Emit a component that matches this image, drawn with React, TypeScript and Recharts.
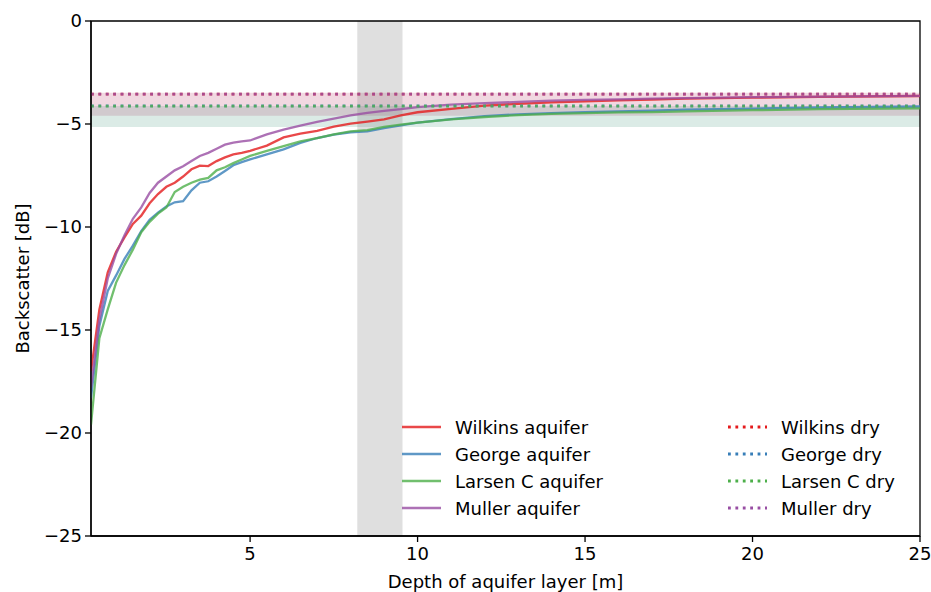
import { LineChart, Line, XAxis, YAxis, ReferenceArea, ReferenceLine } from 'recharts';

// depth of the aquifer layer [m]
const depths = [
  0.25, 0.5, 0.75, 1, 1.25, 1.5, 1.75, 2, 2.25, 2.5, 2.75, 3, 3.25, 3.5, 3.75, 4, 4.25, 4.5, 4.75, 5,
  5.5, 6, 6.5, 7, 7.5, 8, 8.5, 9, 9.5, 10, 11, 12, 13, 14, 15, 16, 17, 18, 20, 22, 25,
];

// backscatter [dB] for each site with an aquifer
const wilkins = [
  -17.0, -14.0, -12.2, -11.2, -10.5, -9.85, -9.45, -8.85, -8.4, -8.05, -7.85, -7.55, -7.2, -7.02, -7.04, -6.8, -6.62, -6.48, -6.4, -6.3,
  -6.05, -5.65, -5.47, -5.33, -5.13, -4.98, -4.88, -4.78, -4.58, -4.43, -4.27, -4.11, -4.02, -3.95, -3.9, -3.85, -3.81, -3.77, -3.72, -3.68, -3.64,
];
const george = [
  -18.3, -14.8, -13.1, -12.35, -11.55, -10.9, -10.2, -9.65, -9.3, -9.0, -8.8, -8.75, -8.22, -7.85, -7.78, -7.55, -7.28, -7.0, -6.85, -6.72,
  -6.47, -6.23, -5.92, -5.68, -5.52, -5.4, -5.36, -5.2, -5.07, -4.93, -4.76, -4.62, -4.53, -4.47, -4.42, -4.39, -4.35, -4.3, -4.25, -4.2, -4.15,
];
const larsen = [
  -19.6, -15.4, -14.0, -12.7, -11.85, -11.1, -10.25, -9.75, -9.35, -9.05, -8.3, -8.05, -7.85, -7.7, -7.62, -7.25, -7.1, -6.9, -6.72, -6.55,
  -6.3, -6.07, -5.84, -5.68, -5.5, -5.36, -5.3, -5.14, -5.03, -4.93, -4.78, -4.66, -4.57, -4.51, -4.47, -4.44, -4.42, -4.39, -4.33, -4.28, -4.24,
];
const muller = [
  -17.8, -14.5, -12.5, -11.3, -10.4, -9.6, -9.05, -8.35, -7.85, -7.55, -7.25, -7.05, -6.8, -6.55, -6.4, -6.2, -6.0, -5.9, -5.84, -5.8,
  -5.5, -5.27, -5.08, -4.9, -4.74, -4.58, -4.46, -4.36, -4.28, -4.18, -4.06, -3.99, -3.93, -3.87, -3.83, -3.8, -3.77, -3.74, -3.7, -3.67, -3.63,
];

// dry backscatter and its range, same order as the sites
const sites = ['Wilkins', 'George', 'Larsen C', 'Muller'];
const colors = ['#e41a1c', '#377eb8', '#4daf4a', '#984ea3'];
const dryLevel = [-3.55, -4.12, -4.13, -3.55];
const bandTop = [-3.48, -4.13, -4.13, -3.48];
const bandBottom = [-4.6, -5.15, -5.15, -4.6];

// depth range shaded in grey
const shadeFrom = 8.2;
const shadeTo = 9.55;

const xTicks = [5, 10, 15, 20, 25];
const yTicks = [0, -5, -10, -15, -20, -25];

const rows = depths.map((d, i) => ({
  depth: d,
  wilkins: wilkins[i],
  george: george[i],
  larsen: larsen[i],
  muller: muller[i],
}));
const keys = ['wilkins', 'george', 'larsen', 'muller'];

const font = '"DejaVu Sans", sans-serif';
const minus = (v: number) => String(v).replace('-', '\u2212');

const YLabel = ({ viewBox }: any) => {
  const cy = viewBox.y + viewBox.height / 2;
  return (
    <text x={22} y={cy} transform={`rotate(-90, 22, ${cy})`} textAnchor="middle" dominantBaseline="central"
      fontSize={18} fontFamily={font} fill="#000">
      Backscatter [dB]
    </text>
  );
};

function LegendColumn({ left, dotted, suffix }: { left: number; dotted: boolean; suffix: string }) {
  return (
    <div style={{ position: 'absolute', left, top: 413.5 }}>
      {sites.map((s, i) => (
        <div key={s} style={{ display: 'flex', alignItems: 'center', height: 27 }}>
          <svg width={39} height={10} style={{ display: 'block' }}>
            <line x1={0} y1={5} x2={39} y2={5} stroke={colors[i]} strokeWidth={dotted ? 2.8 : 2.3}
              strokeOpacity={dotted ? 1 : 0.8} strokeDasharray={dotted ? '2.8 4.6' : undefined} />
          </svg>
          <span style={{ marginLeft: 14, fontSize: 18, fontFamily: font, whiteSpace: 'nowrap' }}>
            {s} {suffix}
          </span>
        </div>
      ))}
    </div>
  );
}

export default function App() {
  return (
    <div style={{ position: 'relative', width: 931, height: 592, background: '#fff' }}>
      <style>{`body{margin:0}`}</style>
      <LineChart width={931} height={592} data={rows} margin={{ top: 21, right: 11, bottom: 0, left: 0 }}>
        <XAxis dataKey="depth" type="number" domain={[0.25, 25]} ticks={xTicks} allowDataOverflow
          height={56} tickSize={6} tickMargin={5} stroke="#000" strokeWidth={1.3}
          tick={{ fill: '#000', fontSize: 18, fontFamily: font }}
          label={{ value: 'Depth of aquifer layer [m]', position: 'insideBottom', offset: 4, fill: '#000', fontSize: 18, fontFamily: font }} />
        <YAxis type="number" domain={[-25, 0]} ticks={yTicks} allowDataOverflow width={91}
          tickSize={6} tickMargin={3} stroke="#000" strokeWidth={1.3} tickFormatter={minus}
          tick={{ fill: '#000', fontSize: 18, fontFamily: font }}
          label={<YLabel />} />
        {sites.map((s, i) => (
          <ReferenceArea key={`band-${s}`} y1={bandBottom[i]} y2={bandTop[i]} x1={0.25} x2={25}
            fill={colors[i]} fillOpacity={0.1} stroke="none" />
        ))}
        <ReferenceArea x1={shadeFrom} x2={shadeTo} y1={-25} y2={0} fill="#808080" fillOpacity={0.25} stroke="none" />
        {keys.map((k, i) => (
          <Line key={k} dataKey={k} type="linear" stroke={colors[i]} strokeOpacity={0.8} strokeWidth={2.3}
            dot={false} isAnimationActive={false} />
        ))}
        {sites.map((s, i) => (
          <ReferenceLine key={`dry-${s}`} y={dryLevel[i]} stroke={colors[i]} strokeWidth={2.8}
            strokeOpacity={0.8} strokeDasharray="2.8 4.6" />
        ))}
        <ReferenceArea x1={0.25} x2={25} y1={-25} y2={0} fill="none" stroke="#000" strokeWidth={1.3} />
      </LineChart>
      <LegendColumn left={402} dotted={false} suffix="aquifer" />
      <LegendColumn left={728} dotted={true} suffix="dry" />
    </div>
  );
}
